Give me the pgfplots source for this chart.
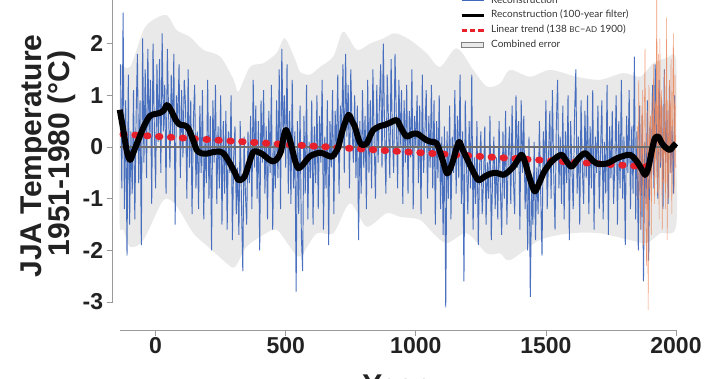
\documentclass[border=0pt]{standalone}
\usepackage{pgfplots}
\pgfplotsset{compat=1.18}
\usepackage{fontspec}
\setmainfont{Liberation Sans}
\newfontfamily\legfont{Lato}
\definecolor{recblue}{HTML}{4068BC}
\definecolor{instor}{HTML}{EA8558}
\definecolor{trendred}{HTML}{E8202C}
\definecolor{bandgray}{HTML}{E9E9E9}
\definecolor{axgray}{HTML}{9A9A9A}
\definecolor{zerogray}{HTML}{6E6E6E}
\definecolor{txt}{HTML}{222222}
\definecolor{legtxt}{HTML}{333333}
\pgfplotsset{
  legline/.style={legend image code/.code={\draw[##1] (0pt,0pt) -- (22pt,0pt);}},
  legbox/.style={legend image code/.code={\draw[##1] (0pt,-2.5pt) rectangle (22pt,2.5pt);}}
}
\begin{document}
\begin{tikzpicture}
\path[use as bounding box] (0pt,0pt) rectangle (720pt,378pt);
\begin{axis}[
  at={(112.7pt,48pt)}, anchor=south west,
  scale only axis, width=565.9pt, height=338.1pt,
  xmin=-165, xmax=2010, ymin=-3.54, ymax=3,
  clip=false,
  axis line style={draw=none},
  xtick={0,500,1000,1500,2000}, xticklabels={0,500,1000,1500,2000},
  ytick={-3,-2,-1,0,1,2,3}, yticklabels={-3,-2,-1,0,1,2,3},
  tick align=outside, xtick pos=lower, ytick pos=left,
  major tick length=6pt,
  tick style={axgray, line width=0.8pt},
  ticklabel style={font=\fontsize{23}{23}\selectfont\bfseries, text=txt},
  xticklabel style={yshift=2pt},
  legend style={at={(axis description cs:0.6137,0.9896)}, anchor=north west,
    draw=none, fill=none, inner sep=0pt, row sep=4.85pt, column sep=6pt,
    font=\legfont\fontsize{10}{12}\selectfont, text=legtxt,
    nodes={inner sep=0pt, text height=7.5pt, text depth=2.5pt}},
  legend cell align=left,
]
\addlegendimage{recblue, line width=1pt, legline}
\addlegendentry{Reconstruction}
\addlegendimage{black, line width=3pt, legline}
\addlegendentry{Reconstruction (100-year filter)}
\addlegendimage{trendred, line width=3pt, dash pattern=on 5.5pt off 2.8pt, legline}
\addlegendentry{Linear trend (138 {\fontsize{8}{9}\selectfont BC}–{\fontsize{8}{9}\selectfont AD} 1900)}
\addlegendimage{fill=bandgray, draw=gray, line width=0.8pt, legbox}
\addlegendentry{Combined error}

% combined error band (upper edge left to right, lower edge right to left)
\addplot[fill=bandgray, draw=none, smooth, tension=0.5, forget plot] coordinates {
(-138,1.62)(-98,1.55)(-47,2.26)(-9,2.46)(43,2.55)(81,2.26)(132,2.13)(183,1.88)(248,1.75)(300,1.3)(318,1.07)(363,1.55)(414,1.62)(465,1.82)(497,2.1)(542,1.62)(555,1.45)(593,1.40)(632,1.55)(683,1.75)(721,2.23)(773,1.88)(824,2.0)(875,2.1)(920,2.2)(978,2.07)(1042,1.81)(1093,1.55)(1157,1.91)(1221,1.49)(1273,1.17)(1324,1.23)(1362,1.49)(1439,1.36)(1516,1.49)(1618,1.36)(1708,1.30)(1797,1.43)(1862,1.36)(1913,1.62)(1964,1.72)(2000,1.68)
(2001,0)
(2000,-1.54)(1939,-1.67)(1887,-1.86)(1823,-1.8)(1708,-1.67)(1593,-1.67)(1477,-1.8)(1362,-2.19)(1324,-2.06)(1273,-2.06)(1196,-1.67)(1119,-1.86)(1067,-1.67)(1016,-1.41)(939,-1.35)(888,-1.28)(811,-1.54)(747,-1.09)(683,-1.67)(619,-1.67)(555,-2.12)(516,-1.93)(465,-1.6)(414,-1.7)(350,-1.93)(305,-2.32)(273,-2.25)(209,-1.96)(145,-1.67)(81,-1.15)(30,-1.03)(-47,-1.8)(-98,-1.93)(-124,-1.6)(-138,-1.5)
(-139,0)} -- cycle;

% annual reconstruction
\addplot[recblue, line width=0.95pt, opacity=0.95, forget plot] coordinates {
(-135,1.6)(-130,-0.8)(-125,2.6)(-120,-1.2)(-115,0.9)(-110,-2.1)(-105,1.4)(-100,-1.5)(-95,0.3)(-90,-0.9)
(-85,1.1)(-80,-1.4)(-75,0.6)(-70,1.8)(-65,-0.7)(-60,0.9)(-55,-1.9)(-50,2.1)(-45,-0.3)(-40,1.5)
(-35,-0.6)(-30,1.9)(-25,0.2)(-20,1.3)(-15,-1.1)(-10,2.0)(-5,0.4)(0,-0.8)(5,1.6)(10,0.1)
(15,1.7)(20,-0.5)(25,2.2)(30,0.3)(35,1.2)(40,-0.9)(45,1.9)(50,0.6)(55,-0.4)(60,1.4)
(65,0.2)(70,1.8)(75,-1.5)(80,1.0)(85,0.4)(90,1.6)(95,-0.6)(100,1.1)(105,-0.2)(110,1.3)
(115,0.8)(120,-1.0)(125,1.5)(130,-0.4)(135,0.9)(140,-1.3)(145,0.5)(150,1.2)(155,-0.8)(160,0.3)
(165,-1.2)(170,0.8)(175,-0.5)(180,1.1)(185,-1.4)(190,0.2)(195,-0.7)(200,1.3)(205,-1.0)(210,0.6)
(215,-2.0)(220,0.9)(225,-0.3)(230,1.2)(235,-1.1)(240,0.4)(245,-0.8)(250,1.0)(255,-1.5)(260,0.5)
(265,-0.9)(270,0.7)(275,-1.6)(280,0.3)(285,-0.5)(290,1.0)(295,-1.8)(300,-0.2)(305,0.4)(310,-1.3)
(315,-0.4)(320,-1.7)(325,0.5)(330,-1.1)(335,-2.4)(340,0.2)(345,-0.9)(350,-1.5)(355,0.3)(360,-0.7)
(365,0.6)(370,-1.2)(375,1.3)(380,-0.4)(385,0.8)(390,-1.0)(395,0.5)(400,-2.0)(405,0.9)(410,-0.3)
(415,1.1)(420,-0.9)(425,0.4)(430,-1.4)(435,0.7)(440,-0.5)(445,1.2)(450,-1.6)(455,0.1)(460,-0.8)
(465,0.9)(470,-0.6)(475,1.5)(480,-1.2)(485,1.9)(490,0.2)(495,1.0)(500,-0.4)(505,1.6)(510,-0.9)
(515,0.7)(520,-1.1)(525,1.3)(530,-0.8)(535,0.3)(540,-2.8)(545,0.5)(550,-1.3)(555,0.8)(560,-1.7)
(565,-2.4)(570,0.6)(575,-0.9)(580,1.2)(585,-1.4)(590,0.1)(595,-0.6)(600,0.9)(605,-1.5)(610,0.4)
(615,-0.7)(620,1.0)(625,-1.2)(630,0.6)(635,-0.3)(640,1.3)(645,-1.6)(650,0.2)(655,-0.8)(660,0.9)
(665,-1.9)(670,0.5)(675,-0.4)(680,1.1)(685,-1.3)(690,0.7)(695,-0.2)(700,1.4)(705,-0.9)(710,0.8)
(715,0.3)(720,1.6)(725,-0.5)(730,1.8)(735,0.2)(740,1.2)(745,-0.8)(750,1.5)(755,0.4)(760,-0.3)
(765,1.0)(770,-0.6)(775,0.8)(780,-1.8)(785,0.5)(790,-0.9)(795,1.1)(800,-0.4)(805,0.6)(810,-1.2)
(815,1.3)(820,-0.5)(825,0.9)(830,-0.8)(835,1.5)(840,0.1)(845,-1.0)(850,1.2)(855,-0.3)(860,0.8)
(865,1.6)(870,-0.4)(875,2.0)(880,0.3)(885,-0.9)(890,1.4)(895,0.5)(900,-0.6)(905,1.7)(910,0.2)
(915,-0.5)(920,1.8)(925,0.6)(930,-0.8)(935,1.3)(940,0.0)(945,1.1)(950,-1.1)(955,0.9)(960,-0.3)
(965,1.2)(970,-0.9)(975,0.7)(980,-0.2)(985,1.5)(990,-1.2)(995,0.6)(1000,0.0)(1005,1.0)(1010,-0.7)
(1015,0.8)(1020,-1.3)(1025,1.4)(1030,-0.5)(1035,0.3)(1040,1.1)(1045,-1.0)(1050,0.6)(1055,-0.4)(1060,1.2)
(1065,-0.8)(1070,0.9)(1075,-1.5)(1080,0.5)(1085,-0.6)(1090,1.0)(1095,-1.2)(1100,0.2)(1105,-1.7)(1110,0.4)
(1115,-3.1)(1120,0.3)(1125,-1.0)(1130,0.8)(1135,-1.4)(1140,0.2)(1145,-0.5)(1150,1.1)(1155,-0.9)(1160,0.6)
(1165,-0.6)(1170,1.4)(1175,-1.1)(1180,0.3)(1185,-2.6)(1190,0.9)(1195,-0.4)(1200,-1.3)(1205,0.5)(1210,-0.8)
(1215,1.4)(1220,-1.6)(1225,-0.2)(1230,-1.1)(1235,0.5)(1240,-1.9)(1245,-0.4)(1250,0.3)(1255,-1.3)(1260,-0.7)
(1265,0.4)(1270,-1.5)(1275,-0.3)(1280,-1.0)(1285,0.6)(1290,-1.8)(1295,-0.6)(1300,0.2)(1305,-1.2)(1310,-0.2)
(1315,-1.4)(1320,0.5)(1325,-0.8)(1330,-1.7)(1335,0.3)(1340,-1.0)(1345,0.7)(1350,-1.5)(1355,-0.2)(1360,0.4)
(1365,-1.1)(1370,0.8)(1375,-0.6)(1380,-1.3)(1385,1.0)(1390,-0.4)(1395,0.5)(1400,-1.6)(1405,0.9)(1410,-0.5)
(1415,0.6)(1420,-1.2)(1425,-0.3)(1430,-2.0)(1435,0.2)(1440,-2.9)(1445,-0.8)(1450,-1.5)(1455,0.1)(1460,-1.8)
(1465,-0.4)(1470,-1.3)(1475,0.5)(1480,-0.9)(1485,-2.1)(1490,0.3)(1495,-0.6)(1500,0.9)(1505,-1.2)(1510,-0.2)
(1515,0.7)(1520,-1.0)(1525,1.1)(1530,-0.5)(1535,-1.6)(1540,0.4)(1545,1.3)(1550,-0.8)(1555,0.2)(1560,-1.1)
(1565,0.8)(1570,-1.4)(1575,0.3)(1580,-0.7)(1585,1.0)(1590,-1.8)(1595,0.5)(1600,-0.4)(1605,-1.2)(1610,0.6)
(1615,1.5)(1620,-0.9)(1625,0.2)(1630,-1.5)(1635,0.9)(1640,-0.4)(1645,-1.1)(1650,0.7)(1655,-0.6)(1660,1.0)
(1665,-1.3)(1670,0.4)(1675,-0.8)(1680,1.1)(1685,-1.6)(1690,0.2)(1695,-0.5)(1700,0.8)(1705,-1.2)(1710,-0.1)
(1715,0.9)(1720,-1.4)(1725,0.1)(1730,-0.9)(1735,1.2)(1740,-1.7)(1745,0.4)(1750,-0.6)(1755,0.7)(1760,-1.1)
(1765,-0.3)(1770,1.0)(1775,-1.5)(1780,0.5)(1785,-0.8)(1790,1.3)(1795,-1.0)(1800,0.2)(1805,-1.9)(1810,0.6)
(1815,-0.5)(1820,1.1)(1825,-1.2)(1830,0.4)(1835,-0.9)(1840,1.75)(1845,-1.4)(1850,0.3)(1855,-2.0)(1860,0.8)
(1865,-1.6)(1870,0.6)(1875,-2.6)(1880,0.1)(1885,-1.1)(1890,0.9)(1895,-2.2)(1900,0.4)(1905,-0.6)(1910,1.2)
(1915,-0.8)(1920,1.6)(1925,0.2)(1930,-1.0)(1935,1.3)(1940,-0.4)(1945,0.9)(1950,-1.2)(1955,1.5)(1960,-0.3)
(1965,0.7)(1970,-1.1)(1975,1.2)(1980,-0.5)(1985,0.4)(1990,-0.9)(1995,1.0)};

% instrumental
\addplot[instor, line width=0.55pt, opacity=0.85, forget plot] coordinates {
(1851,0.4)(1854,-1.0)(1857,1.3)(1860,-0.6)(1863,-1.6)(1866,0.8)(1869,-0.9)(1872,1.1)(1875,-1.9)(1878,0.5)
(1881,1.9)(1884,-1.4)(1887,-2.3)(1890,0.7)(1893,-3.15)(1896,1.2)(1899,-0.8)(1902,0.6)(1905,-1.7)(1908,1.0)
(1911,-0.5)(1914,1.6)(1917,-1.1)(1920,0.9)(1923,-0.6)(1926,3.2)(1929,-0.9)(1932,1.8)(1935,-1.4)(1938,2.1)
(1941,-0.3)(1944,1.1)(1947,-1.6)(1950,0.8)(1953,-0.7)(1956,1.5)(1959,-1.2)(1962,0.6)(1964,2.5)(1966,-1.8)
(1969,0.9)(1972,-1.0)(1975,1.3)(1978,-0.5)(1981,1.7)(1984,-1.3)(1987,0.8)(1990,2.2)(1993,-0.9)(1996,1.4)(1999,-0.4)};

% zero line
\addplot[zerogray, line width=2.8pt, forget plot] coordinates {(-138,0)(2003,0)};

% linear trend
\addplot[trendred, line width=6.8pt, line cap=round, dash pattern=on 1.5pt off 10.4pt, forget plot] coordinates {(-126,0.245)(1900,-0.385)};

% 100-year filter
\addplot[black, line width=6pt, smooth, line join=round, forget plot] coordinates {
(-138,0.72)(-125,0.35)(-110,-0.1)(-98,-0.25)(-85,-0.1)(-66,0.14)(-45,0.4)(-22,0.6)(0,0.64)(17,0.66)(30,0.7)(43,0.81)(55,0.75)(68,0.62)(80,0.5)(94,0.43)(110,0.42)(126,0.36)(145,0.12)(158,-0.06)(175,-0.12)(196,-0.13)(220,-0.1)(248,-0.09)(265,-0.15)(286,-0.32)(305,-0.5)(318,-0.64)(333,-0.62)(344,-0.55)(360,-0.3)(376,-0.09)(395,-0.1)(414,-0.15)(435,-0.24)(452,-0.28)(468,-0.22)(482,-0.08)(492,0.2)(501,0.33)(512,0.2)(523,0)(535,-0.25)(548,-0.41)(565,-0.35)(593,-0.18)(632,-0.11)(655,-0.15)(677,-0.19)(692,-0.1)(702,0)(720,0.35)(741,0.62)(755,0.5)(766,0.39)(780,0.15)(792,0.04)(811,0.07)(825,0.22)(837,0.33)(860,0.4)(882,0.43)(905,0.48)(927,0.52)(945,0.35)(965,0.2)(985,0.25)(1004,0.26)(1022,0.2)(1042,0.13)(1060,0.1)(1080,0.07)(1100,-0.2)(1119,-0.51)(1132,-0.42)(1144,-0.25)(1155,-0.05)(1167,0.1)(1180,-0.05)(1196,-0.22)(1218,-0.45)(1240,-0.64)(1262,-0.58)(1285,-0.52)(1310,-0.5)(1336,-0.54)(1355,-0.48)(1375,-0.38)(1392,-0.25)(1407,-0.15)(1420,-0.3)(1432,-0.51)(1445,-0.72)(1458,-0.86)(1474,-0.7)(1490,-0.51)(1506,-0.38)(1522,-0.28)(1541,-0.2)(1561,-0.15)(1580,-0.28)(1599,-0.38)(1625,-0.22)(1650,-0.12)(1672,-0.22)(1695,-0.32)(1734,-0.32)(1772,-0.22)(1800,-0.17)(1823,-0.15)(1840,-0.22)(1855,-0.32)(1870,-0.45)(1881,-0.54)(1891,-0.45)(1900,-0.25)(1910,0.0)(1919,0.17)(1932,0.2)(1945,0.08)(1958,0)(1977,-0.06)(1990,0.02)(2000,0.07)};

% axis lines
\draw[axgray, line width=0.8pt] (axis cs:-138,-3.54) -- (axis cs:2000,-3.54);
\draw[axgray, line width=0.8pt] (axis cs:-165,-3) -- (axis cs:-165,3);
\end{axis}
\node[rotate=90, anchor=base, font=\fontsize{30}{30}\selectfont\bfseries, text=txt] at (41.7pt,222pt) {JJA Temperature};
\node[rotate=90, anchor=base, font=\fontsize{30}{30}\selectfont\bfseries, text=txt] at (69.5pt,224.5pt) {1951-1980 (°C)};
\node[anchor=base, font=\fontsize{30}{30}\selectfont\bfseries, text=txt] at (394pt,-17pt) {Year};
\end{tikzpicture}
\end{document}
